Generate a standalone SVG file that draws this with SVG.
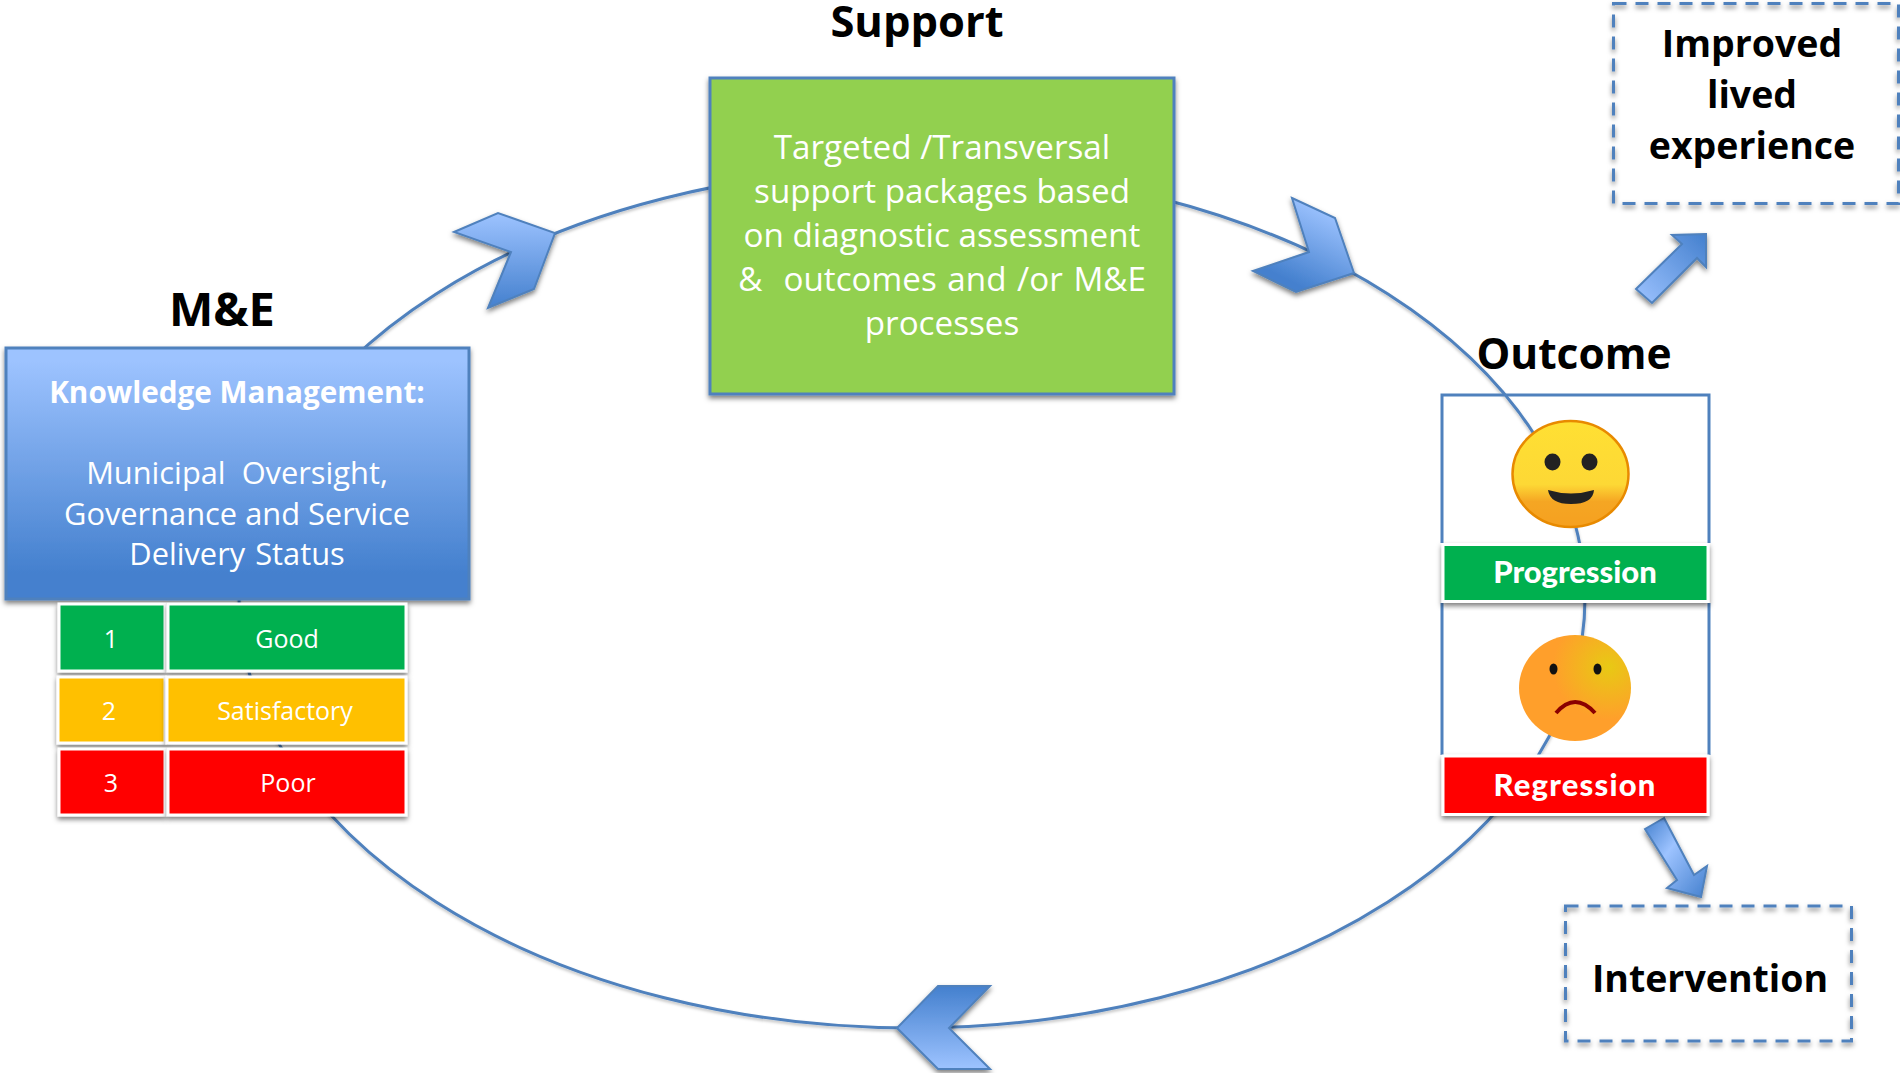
<svg xmlns="http://www.w3.org/2000/svg" width="1900" height="1073" viewBox="0 0 1900 1073">
<style>
text{font-family:"Open Sans","Noto Sans","Liberation Sans",sans-serif;text-anchor:middle;white-space:pre}
.h{font-size:43px;font-weight:700;fill:#000}
.d{font-size:37.500px;font-weight:700;fill:#000}
.w{font-size:30.800px;fill:#fff}
.s{font-size:33.200px;fill:#fff}
.t{font-size:25px;fill:#fff}
.b{font-family:Lato,"Open Sans",sans-serif;font-size:31px;font-weight:900;fill:#fff}
.cell{stroke:#fff;stroke-width:3;filter:url(#sh)}
.chev{stroke:#4F81BD;stroke-width:2;filter:url(#sh)}
.dash{fill:none;stroke:#4F81BD;stroke-width:3;stroke-dasharray:13 9}
.line{fill:none;stroke:#4F81BD;stroke-width:3;filter:url(#shl)}
</style>
<defs>
<filter id="sh" x="-10%" y="-10%" width="120%" height="125%"><feDropShadow dx="0" dy="3" stdDeviation="2.500" flood-color="#000" flood-opacity="0.5"/></filter>
<filter id="shl" x="-5%" y="-5%" width="110%" height="110%"><feDropShadow dx="0" dy="2" stdDeviation="1.500" flood-color="#000" flood-opacity="0.25"/></filter>
<linearGradient id="gBox" x1="0" y1="0" x2="0" y2="1"><stop offset="0.05" stop-color="#9DC3FF"/><stop offset="0.9" stop-color="#4480CE"/></linearGradient>
<linearGradient id="gUp" x1="0" y1="0" x2="0" y2="1"><stop offset="0" stop-color="#9DC3FF"/><stop offset="1" stop-color="#4480CE"/></linearGradient>
<linearGradient id="gDown" x1="0" y1="0" x2="0" y2="1"><stop offset="0" stop-color="#4480CE"/><stop offset="1" stop-color="#9DC3FF"/></linearGradient>
<linearGradient id="gDiag" x1="0.7" y1="0.1" x2="0.3" y2="0.85"><stop offset="0" stop-color="#9DC3FF"/><stop offset="1" stop-color="#4480CE"/></linearGradient>
<linearGradient id="gArrA" x1="0" y1="1" x2="1" y2="0"><stop offset="0" stop-color="#9DC3FF"/><stop offset="1" stop-color="#4480CE"/></linearGradient>
<linearGradient id="gArrB" x1="0" y1="0" x2="1" y2="1"><stop offset="0" stop-color="#4480CE"/><stop offset="0.4" stop-color="#9DC3FF"/><stop offset="1" stop-color="#4480CE"/></linearGradient>
<linearGradient id="gSmile" x1="0" y1="0" x2="0" y2="1"><stop offset="0" stop-color="#FFE033"/><stop offset="0.6" stop-color="#FDD835"/><stop offset="0.76" stop-color="#F5A623"/><stop offset="1" stop-color="#F5A020"/></linearGradient>
<radialGradient id="gSad" cx="0.8" cy="0.3" r="0.5"><stop offset="0" stop-color="#E8C914"/><stop offset="1" stop-color="#FF9F2B"/></radialGradient>
</defs>
<rect width="1900" height="1073" fill="#fff"/>
<g id="connectors">
<ellipse class="line" cx="912" cy="598" rx="673" ry="430"/>
<polygon id="chevron-left" class="chev" fill="url(#gUp)" points="454,232 498,213 555,233 534,289 488,308 511,252"/>
<polygon id="chevron-right" class="chev" fill="url(#gDiag)" points="1292,198 1335,218 1354,273 1296,292 1253,271 1309,252"/>
<polygon id="chevron-bottom" class="chev" fill="url(#gDown)" points="938,986 990,986 949,1028 990,1069 938,1069 897,1028"/>
<polygon id="arrow-improved" class="chev" fill="url(#gArrA)" points="1706,234 1672,235 1682,244 1636,289 1652,303 1697,258 1706,267"/>
<polygon id="arrow-intervention" class="chev" fill="url(#gArrB)" points="1664,818 1645,829 1677,880 1667,888 1701,897 1707,866 1694,875"/>
</g>
<g id="support-label"><text class="h" x="917" y="37" style="font-size:43.500px">Support</text></g>
<g id="support">
<rect x="710" y="78" width="464" height="316" fill="#92D050" stroke="#4F81BD" stroke-width="3" filter="url(#sh)"/>
<text class="s" x="942" y="159">Targeted /Transversal</text>
<text class="s" x="942" y="203">support packages based</text>
<text class="s" x="942" y="247">on diagnostic assessment</text>
<text class="s" x="942" y="291" style="word-spacing:2px">&amp;  outcomes and /or M&amp;E</text>
<text class="s" x="942" y="335">processes</text>
</g>
<g id="me-label"><text class="h" x="222" y="326" style="font-size:47px">M&amp;E</text></g>
<g id="knowledge">
<rect x="6" y="348" width="463" height="251" fill="url(#gBox)" stroke="#4F81BD" stroke-width="3" filter="url(#sh)"/>
<text class="w" x="237" y="403" style="font-weight:700;font-size:29.700px">Knowledge Management:</text>
<text class="w" x="237" y="484">Municipal  Oversight,</text>
<text class="w" x="237" y="525">Governance and Service</text>
<text class="w" x="237" y="565" style="word-spacing:-3px">Delivery  Status</text>
</g>
<g id="row-good">
<rect class="cell" x="59" y="604" width="106" height="67" fill="#00B050"/>
<rect class="cell" x="168" y="604" width="238" height="67" fill="#00B050"/>
<text class="t" x="111" y="648">1</text><text class="t" x="287" y="648">Good</text>
</g>
<g id="row-satisfactory">
<rect class="cell" x="58" y="677" width="107" height="66" fill="#FFC000"/>
<rect class="cell" x="167" y="677" width="239" height="66" fill="#FFC000"/>
<text class="t" x="109" y="720">2</text><text class="t" x="285" y="720">Satisfactory</text>
</g>
<g id="row-poor">
<rect class="cell" x="59" y="749" width="106" height="66" fill="#FF0000"/>
<rect class="cell" x="168" y="749" width="238" height="66" fill="#FF0000"/>
<text class="t" x="111" y="792">3</text><text class="t" x="288" y="792">Poor</text>
</g>
<g id="outcome-label"><text class="h" x="1574" y="369" style="font-size:42.500px">Outcome</text></g>
<g id="outcome">
<path d="M1442 543V395H1709V543M1442 603V755M1709 603V755" fill="none" stroke="#4F81BD" stroke-width="3"/>
</g>
<g id="smile-face">
<ellipse cx="1570.500" cy="474" rx="58" ry="53" fill="url(#gSmile)" stroke="#E88A00" stroke-width="2.500"/>
<ellipse cx="1552.500" cy="462" rx="8" ry="8.500" fill="#222"/>
<ellipse cx="1589.500" cy="462" rx="8" ry="8.500" fill="#222"/>
<path d="M1548 490Q1571 497 1594 490Q1593 504 1571 504Q1550 504 1548 490Z" fill="#222"/>
</g>
<g id="progression">
<rect class="cell" x="1443" y="544.500" width="265" height="57" fill="#00B050"/>
<text class="b" x="1575" y="583">Progression</text>
</g>
<g id="sad-face">
<ellipse cx="1575" cy="688" rx="56" ry="53" fill="url(#gSad)"/>
<ellipse cx="1553.500" cy="669" rx="4" ry="5.500" fill="#111"/>
<ellipse cx="1597.500" cy="669" rx="4" ry="5.500" fill="#111"/>
<path d="M1556 713Q1575 691 1595 713" fill="none" stroke="#8B0000" stroke-width="4"/>
</g>
<g id="regression">
<rect class="cell" x="1443" y="756" width="265" height="58.500" fill="#FF0000"/>
<text class="b" x="1575" y="796" style="letter-spacing:1.200px">Regression</text>
</g>
<g id="improved">
<rect class="dash" x="1613.500" y="3.500" width="285" height="200" filter="url(#sh)"/>
<text class="d" x="1752" y="57">Improved</text>
<text class="d" x="1752" y="108">lived</text>
<text class="d" x="1752" y="159">experience</text>
</g>
<g id="intervention">
<rect class="dash" x="1565.500" y="906" width="286" height="135" filter="url(#sh)"/>
<text class="d" x="1710" y="992">Intervention</text>
</g>
</svg>
